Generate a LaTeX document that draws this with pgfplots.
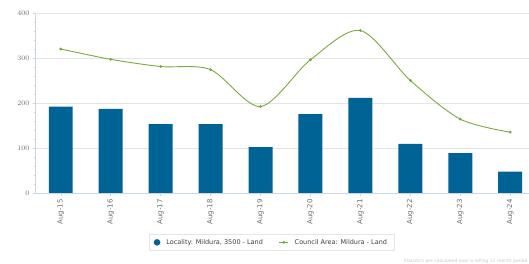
\documentclass[border=0pt]{standalone}
\usepackage{pgfplots}
\pgfplotsset{compat=1.18}
\usepackage{fontspec}
\setmainfont{DejaVu Sans}
\definecolor{barblue}{RGB}{0,99,150}
\definecolor{lgreen}{RGB}{122,170,62}
\definecolor{tickgray}{RGB}{110,110,110}
\definecolor{gridgray}{RGB}{228,228,228}
\definecolor{axgray}{RGB}{204,214,235}
\begin{document}
\begin{tikzpicture}
\path (0pt,0pt) rectangle (529pt,264pt);
\begin{axis}[at={(35.8pt,71pt)}, anchor=south west, scale only axis,
  width=493.2pt, height=180pt,
  xmin=-0.5, xmax=9.37, ymin=0, ymax=400,
  ytick={0,100,...,400}, minor y tick num=4,
  xtick={0,...,9},
  xticklabels={Aug-15,Aug-16,Aug-17,Aug-18,Aug-19,Aug-20,Aug-21,Aug-22,Aug-23,Aug-24},
  axis x line*=bottom, axis y line*=left,
  axis line style={draw=axgray, line width=0.6pt},
  every outer x axis line/.append style={-}, every outer y axis line/.append style={-},
  separate axis lines,
  tick align=outside, major tick length=3pt, minor tick length=2pt,
  tick style={draw=axgray, line width=0.5pt},
  ymajorgrids, grid style={draw=gridgray, line width=0.6pt},
  x tick label style={rotate=90, anchor=east, font=\fontsize{7}{8}\selectfont, text=tickgray},
  y tick label style={font=\fontsize{7}{8}\selectfont, text=tickgray},
  legend style={at={(0.478,-0.275)}, anchor=center, draw=gray!20, fill=white,
    font=\fontsize{6.5}{8}\selectfont, text=black!75, legend columns=2,
    inner xsep=5pt, inner ysep=3pt,
    /tikz/every odd column/.append style={column sep=4pt},
    /tikz/every even column/.append style={column sep=14pt}},
]
\addplot[ybar, bar width=24pt, fill=barblue, draw=none,
  legend image code/.code={\fill[barblue] (0.35em,0) circle (3.3pt);}]
  coordinates {(0,192) (1,187) (2,153) (3,153) (4,102) (5,175) (6,211) (7,109) (8,88.5) (9,47)};
\addlegendentry{Locality: Mildura, 3500 - Land}
\addplot[lgreen, line width=0.9pt, smooth, tension=0.5, mark=*, mark size=0.9pt,
  legend image code/.code={\draw[lgreen, line width=0.8pt] (0,0) -- (0.9em,0); \fill[lgreen] (0.45em,0) circle (0.9pt);}]
  coordinates {(0,320) (1,297) (2,281) (3,274) (4,192) (5,296) (6,361) (7,250) (8,164) (9,135)};
\addlegendentry{Council Area: Mildura - Land}
\end{axis}
\node[anchor=base east, font=\fontsize{4.5}{5}\selectfont, text=gray!45, inner sep=0pt] at (528pt,1.5pt) {Statistics are calculated over a rolling 12 month period};
\end{tikzpicture}
\end{document}
